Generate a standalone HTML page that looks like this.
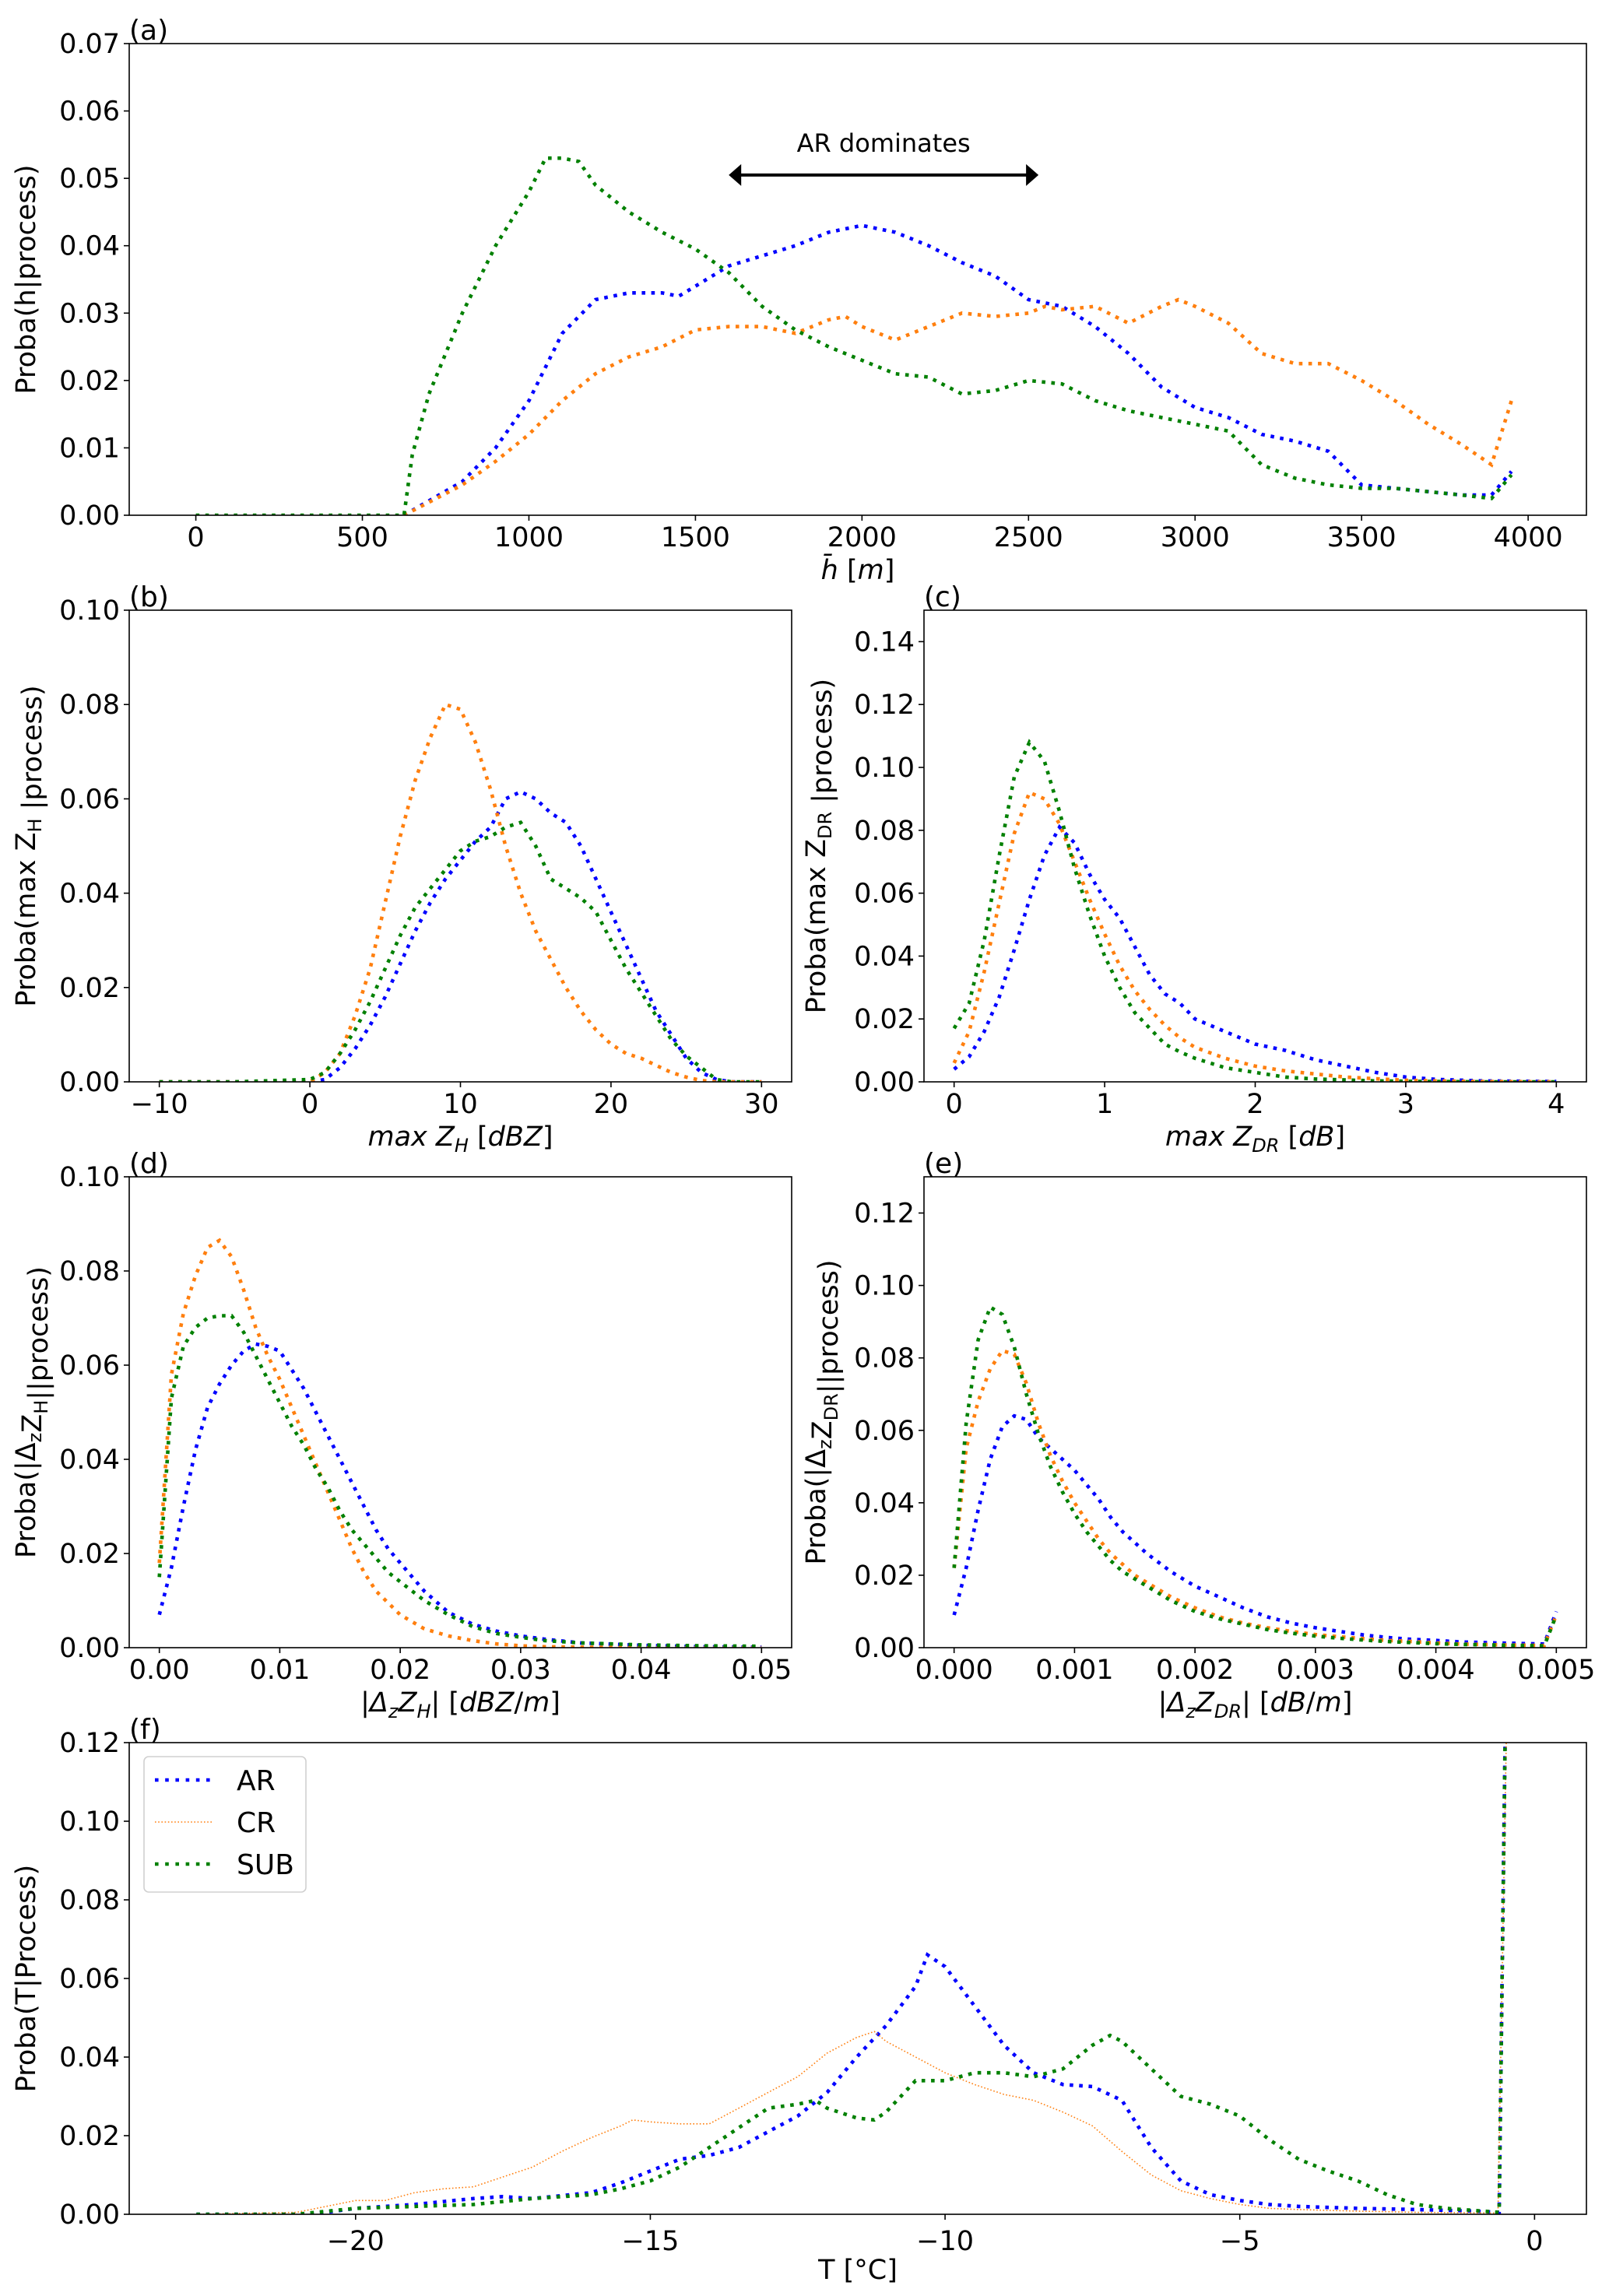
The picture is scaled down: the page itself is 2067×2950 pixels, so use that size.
<!DOCTYPE html>
<html><head><meta charset="utf-8"><style>
html,body{margin:0;padding:0;background:#fff;}
svg{display:block;font-family:"DejaVu Sans","Liberation Sans",sans-serif;}
</style></head><body>
<svg id="fig" width="2067" height="2950" viewBox="0 0 2067 2950" xmlns="http://www.w3.org/2000/svg"></svg>
<script>
// ---------- Panel (a): mean height ----------
const aArX=[625,800,900,1000,1100,1200,1300,1400,1450,1500,1600,1700,1800,1900,2000,2100,2200,2300,2400,2500,2600,2700,2800,2900,3000,3100,3200,3300,3400,3500,3600,3700,3800,3890,3950];
const aArY=[0,0.005,0.01,0.017,0.027,0.032,0.033,0.033,0.0325,0.034,0.037,0.0385,0.04,0.042,0.043,0.042,0.040,0.0375,0.0355,0.032,0.031,0.028,0.024,0.019,0.016,0.0145,0.012,0.011,0.0095,0.0045,0.004,0.0035,0.003,0.003,0.0065];
const aCrX=[625,800,900,1000,1100,1200,1300,1400,1500,1600,1700,1800,1900,1950,2000,2100,2200,2300,2400,2500,2550,2600,2700,2800,2900,2950,3000,3100,3200,3300,3400,3500,3600,3700,3800,3890,3950];
const aCrY=[0,0.0045,0.008,0.012,0.017,0.021,0.0235,0.025,0.0275,0.028,0.028,0.027,0.029,0.0295,0.028,0.026,0.028,0.030,0.0295,0.030,0.031,0.0305,0.031,0.0285,0.031,0.032,0.031,0.0285,0.024,0.0225,0.0225,0.02,0.017,0.0135,0.0105,0.0075,0.017];
const aSubX=[0,100,200,300,400,500,600,625,650,700,800,900,1000,1050,1100,1150,1200,1300,1400,1500,1600,1700,1800,1900,2000,2100,2200,2300,2400,2500,2600,2700,2800,2900,3000,3100,3200,3300,3400,3500,3600,3700,3800,3890,3950];
const aSubY=[0,0,0,0,0,0,0,0,0.009,0.018,0.03,0.040,0.048,0.053,0.053,0.0525,0.049,0.045,0.042,0.0395,0.036,0.031,0.0275,0.025,0.023,0.021,0.0205,0.018,0.0185,0.020,0.0195,0.017,0.0155,0.0145,0.0135,0.0125,0.0075,0.0055,0.0045,0.004,0.004,0.0035,0.003,0.0025,0.006];
const aXTicks=[0,500,1000,1500,2000,2500,3000,3500,4000];
const aXTickLabels=["0","500","1000","1500","2000","2500","3000","3500","4000"];
const aYTicks=[0,0.01,0.02,0.03,0.04,0.05,0.06,0.07];
const aYTickLabels=["0.00","0.01","0.02","0.03","0.04","0.05","0.06","0.07"];
const aArrow=[1600,2530]; const aArrowY=0.0505;

// ---------- Panel (b): max ZH ----------
const bX=[-10,-5,0,1,2,3,4,5,6,7,8,9,10,11,12,13,14,15,16,17,18,19,20,21,22,23,24,25,26,27,28,30];
const bAr=[0,0,0,0.0005,0.003,0.007,0.012,0.018,0.025,0.032,0.038,0.043,0.047,0.051,0.054,0.060,0.0615,0.060,0.057,0.055,0.050,0.043,0.036,0.029,0.022,0.015,0.010,0.005,0.002,0.0005,0,0];
const bCr=[0,0,0,0.002,0.006,0.014,0.024,0.038,0.052,0.064,0.073,0.080,0.079,0.072,0.062,0.050,0.040,0.032,0.026,0.020,0.015,0.011,0.008,0.006,0.005,0.0035,0.002,0.001,0.0003,0,0,0];
const bSub=[0,0,0.0005,0.002,0.006,0.011,0.017,0.024,0.031,0.037,0.041,0.045,0.049,0.051,0.052,0.054,0.055,0.050,0.043,0.041,0.039,0.036,0.030,0.024,0.019,0.014,0.009,0.0055,0.003,0.0005,0,0];
const bXTicks=[-10,0,10,20,30];
const bXTickLabels=["\u221210","0","10","20","30"];
const bYTicks=[0,0.02,0.04,0.06,0.08,0.10];
const bYTickLabels=["0.00","0.02","0.04","0.06","0.08","0.10"];

// ---------- Panel (c): max ZDR ----------
const cX=[0,0.1,0.2,0.3,0.4,0.5,0.6,0.7,0.8,0.9,1.0,1.1,1.2,1.3,1.4,1.5,1.6,1.8,2.0,2.2,2.4,2.6,2.8,3.0,3.2,3.5,4.0];
const cAr=[0.004,0.008,0.016,0.027,0.042,0.058,0.072,0.081,0.076,0.066,0.058,0.052,0.043,0.034,0.028,0.025,0.020,0.016,0.012,0.010,0.007,0.005,0.003,0.0015,0.0008,0.0003,0.0001];
const cCr=[0.006,0.016,0.035,0.057,0.079,0.092,0.090,0.082,0.070,0.058,0.047,0.037,0.029,0.023,0.018,0.014,0.011,0.0075,0.005,0.0035,0.0025,0.0015,0.001,0.0005,0.0003,0.0001,0];
const cSub=[0.017,0.025,0.045,0.072,0.097,0.108,0.102,0.086,0.068,0.053,0.040,0.030,0.022,0.017,0.012,0.0095,0.0075,0.0045,0.003,0.0015,0.0009,0.0006,0.0003,0.0002,0.0001,0,0];
const cXTicks=[0,1,2,3,4];
const cXTickLabels=["0","1","2","3","4"];
const cYTicks=[0,0.02,0.04,0.06,0.08,0.10,0.12,0.14];
const cYTickLabels=["0.00","0.02","0.04","0.06","0.08","0.10","0.12","0.14"];

// ---------- Panel (d): |dZH| ----------
const dX=[0,0.001,0.002,0.003,0.004,0.005,0.006,0.007,0.008,0.009,0.010,0.011,0.012,0.013,0.014,0.015,0.016,0.017,0.018,0.019,0.020,0.022,0.024,0.026,0.028,0.030,0.032,0.035,0.040,0.045,0.050];
const dAr=[0.007,0.017,0.03,0.042,0.051,0.056,0.060,0.063,0.0645,0.064,0.063,0.059,0.055,0.050,0.045,0.040,0.035,0.030,0.025,0.021,0.018,0.012,0.0075,0.005,0.0035,0.0025,0.0018,0.001,0.0005,0.0002,0.0001];
const dCr=[0.018,0.058,0.071,0.079,0.085,0.0865,0.083,0.076,0.068,0.062,0.057,0.051,0.045,0.039,0.033,0.027,0.021,0.016,0.012,0.0095,0.007,0.004,0.0025,0.0015,0.0008,0.0004,0.0002,0.0001,0,0,0];
const dSub=[0.015,0.053,0.064,0.068,0.070,0.0705,0.0705,0.067,0.062,0.057,0.052,0.047,0.043,0.038,0.034,0.029,0.025,0.022,0.019,0.016,0.014,0.010,0.007,0.0045,0.003,0.0022,0.0015,0.001,0.0006,0.0004,0.0003];
const dXTicks=[0,0.01,0.02,0.03,0.04,0.05];
const dXTickLabels=["0.00","0.01","0.02","0.03","0.04","0.05"];
const dYTicks=[0,0.02,0.04,0.06,0.08,0.10];
const dYTickLabels=["0.00","0.02","0.04","0.06","0.08","0.10"];

// ---------- Panel (e): |dZDR| ----------
const eX=[0,0.0001,0.0002,0.0003,0.0004,0.0005,0.0006,0.0007,0.0008,0.0009,0.001,0.0011,0.0012,0.0013,0.0014,0.0015,0.0016,0.0018,0.002,0.0022,0.0024,0.0026,0.0028,0.003,0.0032,0.0034,0.0036,0.0038,0.004,0.0042,0.0045,0.0049,0.005];
const eAr=[0.009,0.022,0.038,0.052,0.061,0.064,0.063,0.058,0.055,0.052,0.049,0.045,0.041,0.036,0.032,0.029,0.026,0.021,0.017,0.014,0.011,0.0085,0.0068,0.0055,0.0045,0.0035,0.0028,0.0023,0.002,0.0016,0.0013,0.001,0.01];
const eCr=[0.022,0.055,0.068,0.077,0.082,0.081,0.073,0.062,0.053,0.046,0.040,0.035,0.030,0.026,0.023,0.020,0.018,0.014,0.011,0.0085,0.0068,0.0055,0.0045,0.0036,0.003,0.0025,0.002,0.0017,0.0013,0.001,0.0008,0.0006,0.009];
const eSub=[0.022,0.062,0.085,0.094,0.092,0.083,0.070,0.059,0.050,0.043,0.037,0.032,0.028,0.024,0.021,0.019,0.017,0.013,0.010,0.008,0.0065,0.005,0.004,0.0032,0.0026,0.0021,0.0017,0.0014,0.0011,0.0009,0.0007,0.0005,0.009];
const eXTicks=[0,0.001,0.002,0.003,0.004,0.005];
const eXTickLabels=["0.000","0.001","0.002","0.003","0.004","0.005"];
const eYTicks=[0,0.02,0.04,0.06,0.08,0.10,0.12];
const eYTickLabels=["0.00","0.02","0.04","0.06","0.08","0.10","0.12"];

// ---------- Panel (f): temperature ----------
const fArX=[-22.7,-21,-20.5,-20,-19,-18,-17.5,-17,-16,-15.5,-15,-14.5,-14,-13.5,-13,-12.5,-12,-11.5,-11,-10.5,-10.3,-10,-9.5,-9,-8.5,-8,-7.5,-7,-6.5,-6,-5.5,-5,-4.5,-4,-3,-2,-1,-0.6,-0.5];
const fArY=[0,0,0.0005,0.0015,0.0025,0.004,0.0045,0.004,0.0055,0.008,0.011,0.014,0.015,0.017,0.021,0.025,0.031,0.04,0.048,0.058,0.066,0.063,0.053,0.043,0.036,0.033,0.0325,0.029,0.017,0.0085,0.005,0.0035,0.0025,0.002,0.0015,0.0012,0.0008,0.0005,0.12];
const fCrX=[-22.7,-21,-20.5,-20,-19.5,-19,-18.5,-18,-17.5,-17,-16.5,-16,-15.5,-15.3,-15,-14.5,-14,-13.5,-13,-12.5,-12,-11.5,-11.2,-11,-10.5,-10,-9.5,-9,-8.5,-8,-7.5,-7,-6.5,-6,-5.5,-5,-4.5,-4,-3,-2,-0.62,-0.48];
const fCrY=[0,0.0005,0.002,0.0035,0.0035,0.0055,0.0065,0.007,0.0095,0.012,0.016,0.0195,0.0225,0.024,0.0235,0.023,0.023,0.027,0.031,0.035,0.041,0.045,0.0465,0.044,0.040,0.036,0.033,0.0305,0.029,0.026,0.0225,0.016,0.010,0.006,0.004,0.0025,0.0015,0.0012,0.0008,0.0005,0.0003,0.12];
const fSubX=[-22.7,-21,-20,-19,-18,-17,-16,-15.5,-15,-14.5,-14,-13.5,-13,-12.5,-12.2,-12,-11.5,-11.2,-11,-10.5,-10,-9.5,-9,-8.5,-8,-7.5,-7.2,-7,-6.5,-6,-5.5,-5,-4.5,-4,-3.5,-3,-2.5,-2,-1.5,-0.6,-0.5];
const fSubY=[0,0,0.0015,0.002,0.0025,0.004,0.005,0.0065,0.0085,0.012,0.017,0.022,0.027,0.028,0.029,0.027,0.0245,0.024,0.026,0.034,0.034,0.036,0.036,0.035,0.037,0.043,0.0455,0.044,0.037,0.030,0.028,0.025,0.019,0.014,0.011,0.0085,0.005,0.0025,0.0015,0.0005,0.12];
const fXTicks=[-20,-15,-10,-5,0];
const fXTickLabels=["\u221220","\u221215","\u221210","\u22125","0"];
const fYTicks=[0,0.02,0.04,0.06,0.08,0.10,0.12];
const fYTickLabels=["0.00","0.02","0.04","0.06","0.08","0.10","0.12"];

const AR_C="#0000ff", CR_C="#ff7f0e", SUB_C="#008000";
const NS="http://www.w3.org/2000/svg";
const fig=document.getElementById('fig');
function mk(tag,attrs,parent){const e=document.createElementNS(NS,tag);for(const k in attrs)e.setAttribute(k,attrs[k]);(parent||fig).appendChild(e);return e;}

function panel(o){
  const g=mk('g',{});
  
  
  const sx=v=>o.L+(v-o.xmin)/(o.xmax-o.xmin)*(o.R-o.L);
  const sy=v=>o.B-(v-o.ymin)/(o.ymax-o.ymin)*(o.B-o.T);
  const clipId='clip-'+o.name;
  const cp=mk('clipPath',{id:clipId},g);
  mk('rect',{x:o.L,y:o.T-6,width:o.R-o.L,height:o.B-o.T+6},cp);
  const sg=mk('g',{'clip-path':'url(#'+clipId+')'},g);
  
  
  o.series.forEach(s=>{
    let d='';
    for(let i=0;i<s.x.length;i++){d+=(i?'L':'M')+sx(s.x[i]).toFixed(1)+' '+sy(s.y[i]).toFixed(1);}
    const p=mk('path',{d:d,fill:'none',stroke:s.color,'stroke-width':s.thin?1.6:4.6,'stroke-dasharray':s.thin?'1.6 2.6':'4.6 7.6'},sg);
    
    
  });
  const fr=mk('rect',{x:o.L,y:o.T,width:o.R-o.L,height:o.B-o.T,fill:'none',stroke:'#000','stroke-width':1.6},g);
  
  
  o.xt.forEach((v,i)=>{
    const x=sx(v);
    mk('line',{x1:x,x2:x,y1:o.B,y2:o.B+7,stroke:'#000','stroke-width':1.6},g);
    const t=mk('text',{x:x,y:o.B+(o.xtOff||40),'font-size':35,'text-anchor':'middle'},g);
    t.textContent=o.xtl[i];
    
    
  });
  o.yt.forEach((v,i)=>{
    const y=sy(v);
    mk('line',{x1:o.L-7,x2:o.L,y1:y,y2:y,stroke:'#000','stroke-width':1.6},g);
    const t=mk('text',{x:o.L-12,y:y+12,'font-size':35,'text-anchor':'end'},g);
    t.textContent=o.ytl[i];
    
    
  });
  const pl=mk('text',{x:o.L,y:o.T-5,'font-size':36},g);
  pl.textContent=o.label;
  
  
  const xl=mk('text',{x:(o.L+o.R)/2,y:o.B+(o.xlOff||82),'font-size':35,'text-anchor':'middle'},g);
  xl.innerHTML=o.xlabel;
  
  
  const yc=(o.T+o.B)/2;
  const yl=mk('text',{x:0,y:0,'font-size':35,'text-anchor':'middle',transform:'translate('+o.ylx+','+yc+') rotate(-90)'},g);
  yl.innerHTML=o.ylabel;
  
  
  return {g,sx,sy};
}

const sub=(s)=>'<tspan font-size="24" dy="8">'+s+'</tspan><tspan dy="-8"></tspan>';

const pa=panel({name:'panel-a',label:'(a)',L:166,R:2038,T:56,B:662,xmin:-200,xmax:4175,ymin:0,ymax:0.07,
  xt:aXTicks,xtl:aXTickLabels,yt:aYTicks,ytl:aYTickLabels,ylx:45,
  xlabel:'<tspan font-style="italic">h̄</tspan> [<tspan font-style="italic">m</tspan>]',
  ylabel:'Proba(h|process)',
  series:[{key:'ar',x:aArX,y:aArY,color:AR_C},{key:'cr',x:aCrX,y:aCrY,color:CR_C},{key:'sub',x:aSubX,y:aSubY,color:SUB_C}]});
{
  const x1=pa.sx(aArrow[0]),x2=pa.sx(aArrow[1]),y=pa.sy(aArrowY);
  const ln=mk('line',{x1:x1+12,x2:x2-12,y1:y,y2:y,stroke:'#000','stroke-width':4},pa.g);
  
  
  const h1=mk('polygon',{points:(x1)+','+y+' '+(x1+16)+','+(y-14)+' '+(x1+16)+','+(y+14),fill:'#000'},pa.g);
  
  
  const h2=mk('polygon',{points:(x2)+','+y+' '+(x2-16)+','+(y-14)+' '+(x2-16)+','+(y+14),fill:'#000'},pa.g);
  
  
  const t=mk('text',{x:(x1+x2)/2,y:y-30,'font-size':32,'text-anchor':'middle'},pa.g);
  t.textContent='AR dominates';
  
  
}

panel({name:'panel-b',label:'(b)',L:166,R:1017,T:784,B:1390,xmin:-12,xmax:32,ymin:0,ymax:0.10,
  xt:bXTicks,xtl:bXTickLabels,yt:bYTicks,ytl:bYTickLabels,ylx:45,
  xlabel:'<tspan font-style="italic">max Z</tspan><tspan font-style="italic" font-size="24" dy="8">H</tspan><tspan dy="-8"> [</tspan><tspan font-style="italic">dBZ</tspan>]',
  ylabel:'Proba(max Z'+sub('H')+' |process)',
  series:[{key:'ar',x:bX,y:bAr,color:AR_C},{key:'cr',x:bX,y:bCr,color:CR_C},{key:'sub',x:bX,y:bSub,color:SUB_C}]});

panel({name:'panel-c',label:'(c)',L:1187,R:2038,T:784,B:1390,xmin:-0.2,xmax:4.2,ymin:0,ymax:0.15,
  xt:cXTicks,xtl:cXTickLabels,yt:cYTicks,ytl:cYTickLabels,ylx:1060,
  xlabel:'<tspan font-style="italic">max Z</tspan><tspan font-style="italic" font-size="24" dy="8">DR</tspan><tspan dy="-8"> [</tspan><tspan font-style="italic">dB</tspan>]',
  ylabel:'Proba(max Z'+sub('DR')+' |process)',
  series:[{key:'ar',x:cX,y:cAr,color:AR_C},{key:'cr',x:cX,y:cCr,color:CR_C},{key:'sub',x:cX,y:cSub,color:SUB_C}]});

panel({name:'panel-d',label:'(d)',L:166,R:1017,T:1512,B:2117,xmin:-0.0025,xmax:0.0525,ymin:0,ymax:0.10,
  xt:dXTicks,xtl:dXTickLabels,yt:dYTicks,ytl:dYTickLabels,ylx:45,
  xlabel:'|<tspan font-style="italic">Δ</tspan><tspan font-style="italic" font-size="24" dy="8">z</tspan><tspan dy="-8" font-style="italic">Z</tspan><tspan font-style="italic" font-size="24" dy="8">H</tspan><tspan dy="-8">| [</tspan><tspan font-style="italic">dBZ</tspan>/<tspan font-style="italic">m</tspan>]',
  ylabel:'Proba(|Δ'+sub('z')+'Z'+sub('H')+'||process)',
  series:[{key:'ar',x:dX,y:dAr,color:AR_C},{key:'cr',x:dX,y:dCr,color:CR_C},{key:'sub',x:dX,y:dSub,color:SUB_C}]});

panel({name:'panel-e',label:'(e)',L:1187,R:2038,T:1512,B:2117,xmin:-0.00025,xmax:0.00525,ymin:0,ymax:0.13,
  xt:eXTicks,xtl:eXTickLabels,yt:eYTicks,ytl:eYTickLabels,ylx:1060,
  xlabel:'|<tspan font-style="italic">Δ</tspan><tspan font-style="italic" font-size="24" dy="8">z</tspan><tspan dy="-8" font-style="italic">Z</tspan><tspan font-style="italic" font-size="24" dy="8">DR</tspan><tspan dy="-8">| [</tspan><tspan font-style="italic">dB</tspan>/<tspan font-style="italic">m</tspan>]',
  ylabel:'Proba(|Δ'+sub('z')+'Z'+sub('DR')+'||process)',
  series:[{key:'ar',x:eX,y:eAr,color:AR_C},{key:'cr',x:eX,y:eCr,color:CR_C},{key:'sub',x:eX,y:eSub,color:SUB_C}]});

const pf=panel({name:'panel-f',label:'(f)',L:166,R:2038,T:2239,B:2845,xmin:-23.84,xmax:0.88,ymin:0,ymax:0.12,
  xt:fXTicks,xtl:fXTickLabels,yt:fYTicks,ytl:fYTickLabels,ylx:45,xtOff:46,xlOff:83,
  xlabel:'T [°C]',
  ylabel:'Proba(T|Process)',
  series:[{key:'ar',x:fArX,y:fArY,color:AR_C},{key:'cr',x:fCrX,y:fCrY,color:CR_C,thin:true},{key:'sub',x:fSubX,y:fSubY,color:SUB_C}]});

{
  const lg=mk('g',{},pf.g);
  
  
  mk('rect',{x:185,y:2257,width:208,height:174,rx:6,fill:'#fff',stroke:'#d0d0d0','stroke-width':1.6},lg);
  const items=[['AR',AR_C,false,2287],['CR',CR_C,true,2341],['SUB',SUB_C,false,2395]];
  items.forEach(it=>{
    const e=mk('g',{},lg);
    
    
    mk('line',{x1:199,x2:274,y1:it[3],y2:it[3],stroke:it[1],'stroke-width':it[2]?1.6:4.6,'stroke-dasharray':it[2]?'1.6 2.6':'4.6 8.6'},e);
    const t=mk('text',{x:304,y:it[3]+13,'font-size':36},e);
    t.textContent=it[0];
  });
}
</script>
</body></html>
